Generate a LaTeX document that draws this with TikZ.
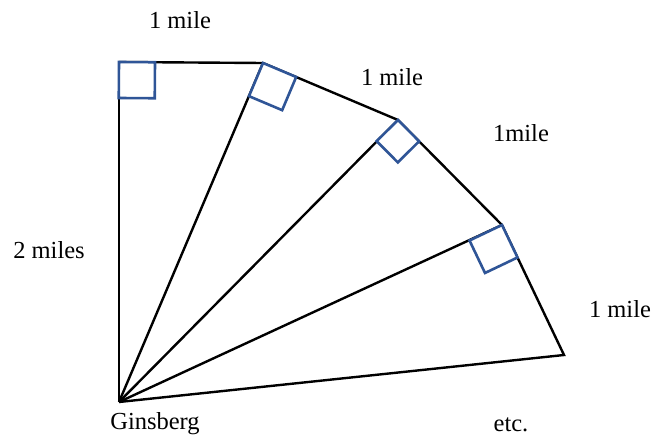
\documentclass[tikz,border=0pt]{standalone}
\usepackage{fontspec}
\setmainfont{Liberation Serif}
\usetikzlibrary{calc}
\definecolor{sqblue}{RGB}{47,85,151}
\tikzset{
  edge/.style={draw=black,line width=2.4pt,line join=miter},
  sq/.style={draw=sqblue,line width=2.6pt,fill=white},
  lbl/.style={font=\fontsize{24.5}{28}\selectfont,inner sep=0pt}
}
\newcommand{\rtsq}[3]{%
  \coordinate (sqA) at (#1);
  \coordinate (sqB) at ($(#1)!#3!(#2)$);
  \coordinate (sqD) at ($(#1)!#3!-90:(#2)$);
  \draw[sq] (sqA) -- (sqB) -- ($(sqB)+(sqD)-(sqA)$) -- (sqD) -- cycle;
}
\begin{document}
\begin{tikzpicture}[x=1pt,y=-1pt]
\useasboundingbox (0,0) rectangle (656,441);
\coordinate (G) at (119,402);
\coordinate (P0) at (119,62);
\coordinate (P1) at (263,63);
\coordinate (P2) at (398,120);
\coordinate (P3) at (502,225);
\coordinate (P4) at (564,355);
\draw[edge] (G) -- (P0);
\draw[edge] (P0) -- (P1) -- (P2) -- (P3) -- (P4) -- (G);
\draw[edge] (G) -- (P1);
\draw[edge] (G) -- (P2);
\draw[edge] (G) -- (P3);
\rtsq{P0}{P1}{36pt}
\rtsq{P1}{P2}{36pt}
\rtsq{P2}{P3}{30pt}
\rtsq{P3}{P4}{36pt}
\node[lbl] (l1) at (180,20) {1 mile};
\node[lbl] (l2) at (392,77) {1 mile};
\node[lbl] (l3) at (521,133) {1mile};
\node[lbl] (l4) at (49,250) {2 miles};
\node[lbl] (l5) at (620,309) {1 mile};
\node[lbl] (lg) at (155,424) {Ginsberg};
\node[lbl] (le) at (511,425) {etc.};
\end{tikzpicture}
\end{document}
